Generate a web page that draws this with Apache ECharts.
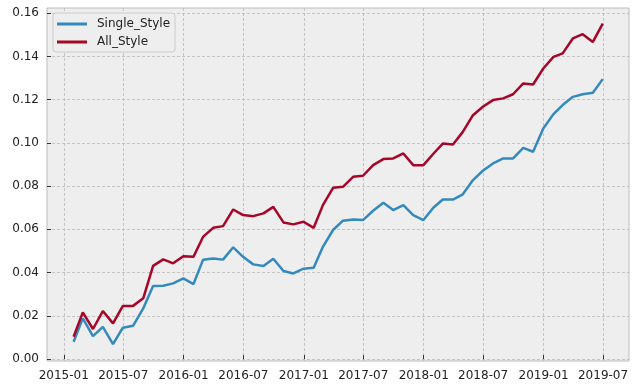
<!DOCTYPE html>
<html><head><meta charset="utf-8">
<script src="https://cdn.jsdelivr.net/npm/echarts@6/dist/echarts.min.js"></script>
<style>html,body{margin:0;padding:0;background:#fff}#c{width:640px;height:389px}</style>
</head><body><div id="c"></div>
<script>
const dates = [
 '2015-01-31','2015-02-28','2015-03-31','2015-04-30','2015-05-31','2015-06-30','2015-07-31','2015-08-31','2015-09-30','2015-10-31','2015-11-30','2015-12-31',
 '2016-01-31','2016-02-29','2016-03-31','2016-04-30','2016-05-31','2016-06-30','2016-07-31','2016-08-31','2016-09-30','2016-10-31','2016-11-30','2016-12-31',
 '2017-01-31','2017-02-28','2017-03-31','2017-04-30','2017-05-31','2017-06-30','2017-07-31','2017-08-31','2017-09-30','2017-10-31','2017-11-30','2017-12-31',
 '2018-01-31','2018-02-28','2018-03-31','2018-04-30','2018-05-31','2018-06-30','2018-07-31','2018-08-31','2018-09-30','2018-10-31','2018-11-30','2018-12-31',
 '2019-01-31','2019-02-28','2019-03-31','2019-04-30','2019-05-31','2019-06-30'
];
const singleStyle = [
 0.0080,0.0188,0.0106,0.0149,0.0069,0.0145,0.0154,0.0234,0.0338,0.0339,0.0350,0.0373,
 0.0347,0.0459,0.0465,0.0460,0.0517,0.0473,0.0438,0.0430,0.0464,0.0407,0.0396,0.0418,
 0.0422,0.0519,0.0597,0.0640,0.0646,0.0643,0.0686,0.0723,0.0689,0.0712,0.0666,0.0643,
 0.0701,0.0738,0.0738,0.0762,0.0828,0.0871,0.0905,0.0928,0.0928,0.0977,0.0959,0.1067,
 0.1133,0.1175,0.1213,0.1225,0.1232,0.1295
];
const allStyle = [
 0.0103,0.0216,0.0139,0.0222,0.0165,0.0246,0.0246,0.0281,0.0431,0.0461,0.0443,0.0476,
 0.0473,0.0565,0.0607,0.0615,0.0692,0.0666,0.0661,0.0674,0.0704,0.0632,0.0623,0.0635,
 0.0607,0.0712,0.0792,0.0797,0.0843,0.0848,0.0897,0.0925,0.0928,0.0951,0.0897,0.0897,
 0.0951,0.0997,0.0993,0.1051,0.1128,0.1167,0.1198,0.1206,0.1225,0.1275,0.1270,0.1344,
 0.1398,0.1414,0.1483,0.1503,0.1467,0.1552
];
const xTickLabels = ['2015-01','2015-07','2016-01','2016-07','2017-01','2017-07','2018-01','2018-07','2019-01','2019-07'];
const yTickValues = [0,0.02,0.04,0.06,0.08,0.10,0.12,0.14,0.16];
const xRange = ['2014-11-11','2019-09-18'];
const yRange = [-0.0009, 0.1624];

function toTs(s){const p=s.split('-');return Date.UTC(+p[0],+p[1]-1,p[2]?+p[2]:1);}
function fmtMonth(v){const d=new Date(v);const m=d.getUTCMonth()+1;return d.getUTCFullYear()+'-'+(m<10?'0':'')+m;}
const xTicks = xTickLabels.map(toTs);
const font = 'DejaVu Sans';
const chart = echarts.init(document.getElementById('c'));
chart.setOption({
  animation:false,
  backgroundColor:'#ffffff',
  grid:{left:47,right:11,top:8,bottom:28,show:true,backgroundColor:'#eeeeee',borderColor:'#bcbcbc',borderWidth:1},
  xAxis:{
    type:'value', min:toTs(xRange[0]), max:toTs(xRange[1]),
    axisLine:{show:false},
    axisTick:{show:true,inside:true,length:4,customValues:xTicks,lineStyle:{color:'#333',width:1}},
    axisLabel:{customValues:xTicks,formatter:fmtMonth,color:'#222',fontFamily:font,fontSize:12,margin:9,hideOverlap:false,showMinLabel:true,showMaxLabel:true},
    splitLine:{show:true,lineStyle:{color:'#b9b9b9',width:0.8,type:[3,2]}}
  },
  yAxis:{
    type:'value', min:yRange[0], max:yRange[1],
    axisLine:{show:false},
    axisTick:{show:true,inside:true,length:4,customValues:yTickValues,lineStyle:{color:'#333',width:1}},
    axisLabel:{customValues:yTickValues,formatter:v=>v.toFixed(2),color:'#222',fontFamily:font,fontSize:12,margin:8},
    splitLine:{show:true,lineStyle:{color:'#b9b9b9',width:0.8,type:[3,2]}}
  },
  legend:{
    orient:'vertical', left:53, top:13,
    backgroundColor:'#eeeeee', borderColor:'#cccccc', borderWidth:1, borderRadius:3,
    padding:[4,5,3,4], itemGap:4, itemWidth:30, itemHeight:3, icon:'rect',
    textStyle:{color:'#222',fontFamily:font,fontSize:12,lineHeight:14,padding:[0,0,0,5]},
    data:['Single_Style','All_Style']
  },
  series:[
    {name:'Single_Style',type:'line',showSymbol:false,symbol:'none',lineStyle:{color:'#348ABD',width:2.5},itemStyle:{color:'#348ABD'},
     data:dates.map((d,i)=>[toTs(d),singleStyle[i]])},
    {name:'All_Style',type:'line',showSymbol:false,symbol:'none',lineStyle:{color:'#A60628',width:2.5},itemStyle:{color:'#A60628'},
     data:dates.map((d,i)=>[toTs(d),allStyle[i]])}
  ]
});
</script></body></html>
